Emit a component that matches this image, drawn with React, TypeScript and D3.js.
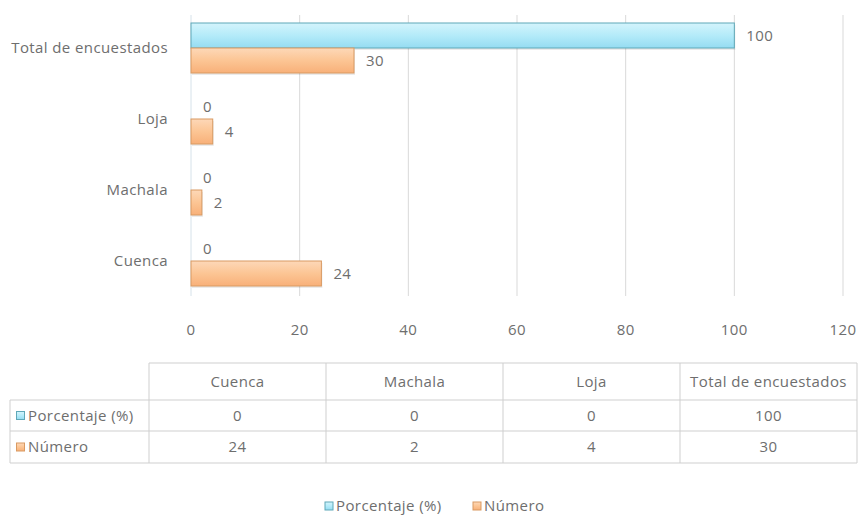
import React from "react";
import * as d3 from "d3";

const categories = ["Cuenca", "Machala", "Loja", "Total de encuestados"];
const seriesNames = ["Porcentaje (%)", "Número"];
const porcentaje = [0, 0, 0, 100];
const numero = [24, 2, 4, 30];
const xTicks = [0, 20, 40, 60, 80, 100, 120];

const W = 860;
const H = 515;
const FONT = "'Open Sans', 'Noto Sans', sans-serif";
const TXT = "#6e6e6e";
const FS = 15;
const LS = 0.4;

export default function App() {
  const x = d3.scaleLinear().domain([0, 120]).range([191, 843]);
  const y0 = d3
    .scaleBand<string>()
    .domain([...categories].reverse())
    .range([12.5, 296.5]);
  const y1 = d3
    .scaleBand<string>()
    .domain(seriesNames)
    .range([10.5, 60.5]);

  const seriesData = [
    { name: seriesNames[0], values: porcentaje, fill: "url(#gBlue)", stroke: "#5fa8b8" },
    { name: seriesNames[1], values: numero, fill: "url(#gOrange)", stroke: "#d99a62" },
  ];

  const tx = d3.scaleBand<string>().domain(categories).range([149, 857]);
  const rowTops = [363, 400, 431, 463];
  const tableLeft = 10;
  const gridColor = "#cfcfcf";

  const txtProps = { fontSize: FS, fill: TXT, letterSpacing: LS };

  return (
    <svg
      width={W}
      height={H}
      style={{ position: "absolute", left: 0, top: 0, background: "#fff" }}
      fontFamily={FONT}
    >
      <defs>
        <linearGradient id="gBlue" x1="0" y1="0" x2="0" y2="1">
          <stop offset="0" stopColor="#d4f4fc" />
          <stop offset="0.5" stopColor="#b4ebf9" />
          <stop offset="1" stopColor="#95dcf2" />
        </linearGradient>
        <linearGradient id="gOrange" x1="0" y1="0" x2="0" y2="1">
          <stop offset="0" stopColor="#fdd8b8" />
          <stop offset="0.5" stopColor="#fcc594" />
          <stop offset="1" stopColor="#f8b079" />
        </linearGradient>
      </defs>

      {xTicks.map((t) => (
        <line
          key={"g" + t}
          x1={x(t)}
          x2={x(t)}
          y1={15}
          y2={296}
          stroke={t === 0 ? "#d6e2ea" : "#d9d9d9"}
          strokeWidth={1}
        />
      ))}

      {xTicks.map((t) => (
        <text
          key={"t" + t}
          x={x(t)}
          y={331}
          textAnchor="middle"
          dominantBaseline="middle"
          {...txtProps}
        >
          {t}
        </text>
      ))}

      {categories.map((c) => (
        <text
          key={"c" + c}
          x={168}
          y={(y0(c) as number) + y0.bandwidth() / 2 + 1}
          textAnchor="end"
          dominantBaseline="middle"
          {...txtProps}
        >
          {c}
        </text>
      ))}

      {seriesData.map((s) =>
        categories.map((c, i) => {
          const v = s.values[i];
          const top = (y0(c) as number) + (y1(s.name) as number);
          const h = y1.bandwidth();
          const w = x(v) - x(0);
          return (
            <g key={s.name + c}>
              {w > 0 && (
                <>
                  <rect x={x(0) + 1} y={top + 2} width={w} height={h} fill="#000" opacity={0.08} />
                  <rect
                    x={x(0)}
                    y={top}
                    width={w}
                    height={h}
                    fill={s.fill}
                    stroke={s.stroke}
                    strokeWidth={1}
                  />
                </>
              )}
              <text x={x(v) + 12} y={top + h / 2 + 1} dominantBaseline="middle" {...txtProps}>
                {v}
              </text>
            </g>
          );
        })
      )}

      {/* data table */}
      <line x1={149} x2={857} y1={rowTops[0]} y2={rowTops[0]} stroke={gridColor} />
      {rowTops.slice(1).map((ry) => (
        <line key={"r" + ry} x1={tableLeft} x2={857} y1={ry} y2={ry} stroke={gridColor} />
      ))}
      <line x1={tableLeft} x2={tableLeft} y1={rowTops[1]} y2={rowTops[3]} stroke={gridColor} />
      {categories.map((c) => (
        <line
          key={"v" + c}
          x1={tx(c)}
          x2={tx(c)}
          y1={rowTops[0]}
          y2={rowTops[3]}
          stroke={gridColor}
        />
      ))}
      <line x1={857} x2={857} y1={rowTops[0]} y2={rowTops[3]} stroke={gridColor} />

      {categories.map((c) => (
        <text
          key={"h" + c}
          x={(tx(c) as number) + tx.bandwidth() / 2}
          y={(rowTops[0] + rowTops[1]) / 2 + 1}
          textAnchor="middle"
          dominantBaseline="middle"
          {...txtProps}
        >
          {c}
        </text>
      ))}

      {seriesData.map((s, r) => {
        const cy = (rowTops[r + 1] + rowTops[r + 2]) / 2 + 1;
        return (
          <g key={"row" + s.name}>
            <rect
              x={16.5}
              y={cy - 5}
              width={8}
              height={8}
              fill={s.fill}
              stroke={s.stroke}
              strokeWidth={1}
            />
            <text x={28} y={cy} dominantBaseline="middle" {...txtProps}>
              {s.name}
            </text>
            {categories.map((c, i) => (
              <text
                key={"cell" + c}
                x={(tx(c) as number) + tx.bandwidth() / 2}
                y={cy}
                textAnchor="middle"
                dominantBaseline="middle"
                {...txtProps}
              >
                {s.values[i]}
              </text>
            ))}
          </g>
        );
      })}

      {seriesData.map((s, i) => {
        const lx = i === 0 ? 325 : 473;
        return (
          <g key={"leg" + s.name}>
            <rect
              x={lx}
              y={502}
              width={8}
              height={8}
              fill={s.fill}
              stroke={s.stroke}
              strokeWidth={1}
            />
            <text x={lx + 11} y={507} dominantBaseline="middle" {...txtProps}>
              {s.name}
            </text>
          </g>
        );
      })}
    </svg>
  );
}
